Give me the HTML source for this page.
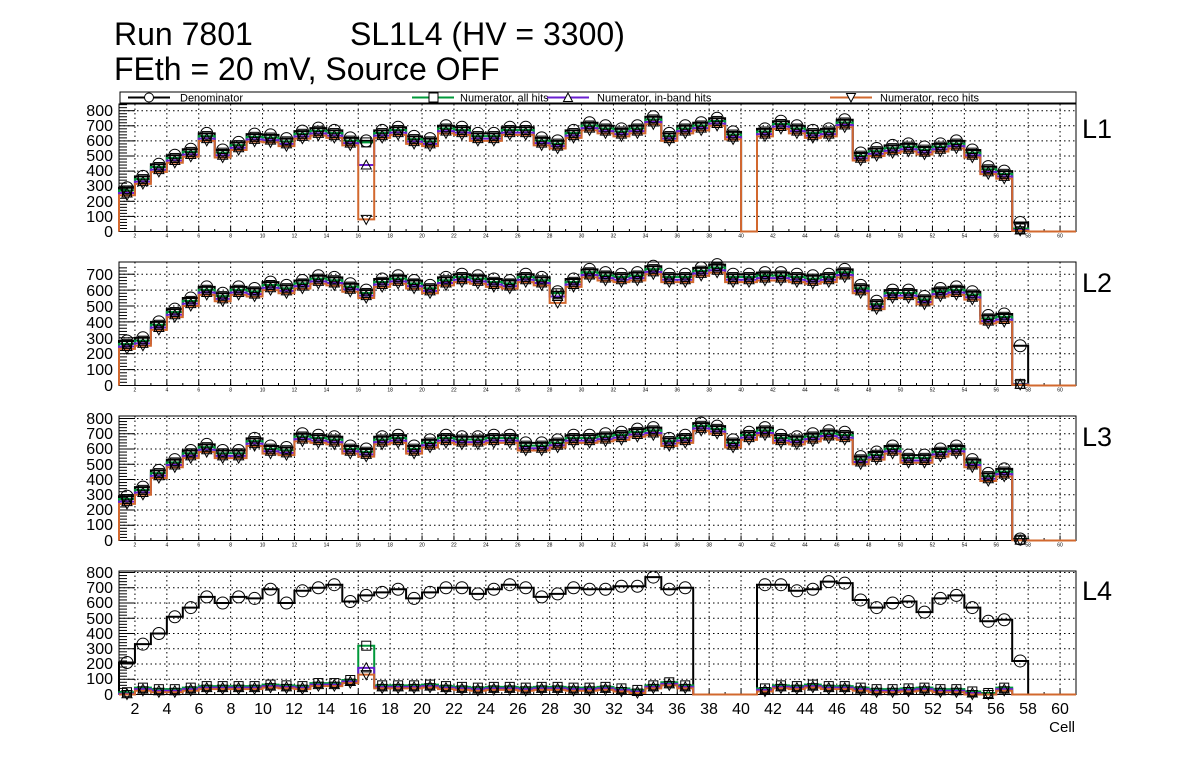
<!DOCTYPE html>
<html><head><meta charset="utf-8"><style>
body{margin:0;background:#fff;width:1196px;height:772px;overflow:hidden;font-family:"Liberation Sans",sans-serif}
svg text{font-family:"Liberation Sans",sans-serif}
</style></head><body>
<svg id="s" width="1196" height="772" xmlns="http://www.w3.org/2000/svg">
<rect width="1196" height="772" fill="#fff"/>
<text x="114" y="45" font-size="32">Run 7801</text>
<text x="350" y="45" font-size="32">SL1L4 (HV = 3300)</text>
<text x="114" y="80" font-size="32">FEth = 20 mV, Source OFF</text>
<rect x="120" y="92" width="956" height="11" fill="#fff" stroke="#000" stroke-width="1"/>
<line x1="128" y1="97.5" x2="170" y2="97.5" stroke="#000" stroke-width="2"/><circle cx="149" cy="97.5" r="4.5" fill="#fff" stroke="#000"/>
<text x="180" y="101.5" font-size="11">Denominator</text>
<line x1="412" y1="97.5" x2="454" y2="97.5" stroke="#00993a" stroke-width="2"/><rect x="429" y="93" width="9" height="9" fill="#fff" stroke="#000"/>
<text x="460" y="101.5" font-size="11">Numerator, all hits</text>
<line x1="547" y1="97.5" x2="589" y2="97.5" stroke="#6a1fd1" stroke-width="2"/><path d="M568 93 L572.5 101.5 L563.5 101.5Z" fill="#fff" stroke="#000"/>
<text x="597" y="101.5" font-size="11">Numerator, in-band hits</text>
<line x1="830" y1="97.5" x2="872" y2="97.5" stroke="#d2682e" stroke-width="2"/><path d="M851 102 L855.5 93.5 L846.5 93.5Z" fill="#fff" stroke="#000"/>
<text x="880" y="101.5" font-size="11">Numerator, reco hits</text>
<text x="1082" y="138" font-size="27">L1</text>
<text x="1082" y="292" font-size="27">L2</text>
<text x="1082" y="446" font-size="27">L3</text>
<text x="1082" y="600" font-size="27">L4</text>
<g font-size="16" text-anchor="end">
<text x="113" y="116">800</text><text x="113" y="131">700</text><text x="113" y="146">600</text><text x="113" y="161">500</text><text x="113" y="176">400</text><text x="113" y="191">300</text><text x="113" y="207">200</text><text x="113" y="222">100</text><text x="113" y="237">0</text>
<text x="113" y="280">700</text><text x="113" y="296">600</text><text x="113" y="312">500</text><text x="113" y="328">400</text><text x="113" y="344">300</text><text x="113" y="359">200</text><text x="113" y="375">100</text><text x="113" y="391">0</text>
<text x="113" y="424">800</text><text x="113" y="439">700</text><text x="113" y="454">600</text><text x="113" y="470">500</text><text x="113" y="485">400</text><text x="113" y="500">300</text><text x="113" y="515">200</text><text x="113" y="530">100</text><text x="113" y="546">0</text>
<text x="113" y="578">800</text><text x="113" y="593">700</text><text x="113" y="608">600</text><text x="113" y="624">500</text><text x="113" y="639">400</text><text x="113" y="654">300</text><text x="113" y="669">200</text><text x="113" y="684">100</text><text x="113" y="700">0</text>
</g>
<g font-size="16" text-anchor="middle">
<text x="135" y="714">2</text><text x="167" y="714">4</text><text x="199" y="714">6</text><text x="231" y="714">8</text><text x="263" y="714">10</text><text x="294" y="714">12</text><text x="326" y="714">14</text><text x="358" y="714">16</text><text x="390" y="714">18</text><text x="422" y="714">20</text><text x="454" y="714">22</text><text x="486" y="714">24</text><text x="518" y="714">26</text><text x="550" y="714">28</text><text x="582" y="714">30</text><text x="614" y="714">32</text><text x="645" y="714">34</text><text x="677" y="714">36</text><text x="709" y="714">38</text><text x="741" y="714">40</text><text x="773" y="714">42</text><text x="805" y="714">44</text><text x="837" y="714">46</text><text x="869" y="714">48</text><text x="901" y="714">50</text><text x="933" y="714">52</text><text x="964" y="714">54</text><text x="996" y="714">56</text><text x="1028" y="714">58</text><text x="1060" y="714">60</text>
</g>
<text x="1075" y="732" font-size="15" text-anchor="end">Cell</text>
<g id="g"></g>
</svg>
<script>
var G=document.getElementById("g"),h="";
function X(v){return 119+(v-1)*15.95;}
var C={d:"#000",a:"#00993a",b:"#6a1fd1",r:"#d2682e"};
var P=[
{top:104,bot:231.5,sc:0.151,mx:800,small:true,
den:[290,365,445,505,545,650,540,590,645,640,615,665,685,670,620,600,670,690,630,615,700,690,650,650,690,690,620,600,670,720,700,680,700,760,650,700,720,750,660,0,680,730,700,670,680,740,520,550,570,580,560,580,600,540,430,400,60,0,0,0],
ov:{16:[590,440,80],57:[20,10,5]}},
{top:262,bot:385.5,sc:0.159,mx:700,small:true,
den:[280,300,400,480,550,620,580,620,610,650,630,660,690,680,640,600,670,690,660,630,680,700,690,670,660,700,680,590,670,730,710,700,710,750,700,700,740,760,700,700,710,710,700,690,700,730,630,530,600,600,560,610,620,590,440,450,250,0,0,0],
ov:{28:[580,560,520],57:[10,8,5]}},
{top:416,bot:540.5,sc:0.1525,mx:800,small:true,
den:[290,350,460,530,590,630,590,590,670,620,610,700,690,680,620,600,680,690,620,660,690,680,680,690,690,640,640,660,690,690,700,710,730,740,670,690,770,750,660,710,740,690,680,700,720,710,550,580,620,560,560,600,620,530,440,470,10,0,0,0],
ov:{57:[5,3,2]}},
{top:571,bot:694.5,sc:0.1525,mx:800,small:false,
den:[210,330,400,510,570,640,600,640,630,690,600,680,700,720,610,650,670,690,630,670,700,700,660,690,720,700,640,660,700,690,690,710,710,770,690,700,0,0,0,0,720,720,680,690,740,730,620,570,600,610,540,630,650,570,480,490,220,0,0,0],
num:[15,45,35,35,45,55,55,55,55,65,60,55,75,75,95,320,60,60,60,65,55,50,45,50,50,45,50,50,45,45,50,40,30,60,80,60,0,0,0,0,40,60,55,65,55,55,45,35,35,40,45,35,35,20,10,45,0,0,0,0],
ov:{16:[320,175,130]},nomark57:true}
];
P.forEach(function(p){
 function Y(v){return p.bot-v*p.sc;}
 h+='<rect x="119" y="'+p.top+'" width="957" height="'+(p.bot-p.top)+'" fill="#fff" stroke="#000" stroke-width="1"/>';
 for(var v=2;v<=60;v+=2)h+='<line x1="'+X(v)+'" y1="'+p.top+'" x2="'+X(v)+'" y2="'+p.bot+'" stroke="#000" stroke-width="1" stroke-dasharray="1.5,3"/>';
 for(var t=100;t<=p.mx;t+=100)h+='<line x1="119" y1="'+Y(t)+'" x2="1076" y2="'+Y(t)+'" stroke="#000" stroke-width="1" stroke-dasharray="1.5,3"/>';
 for(var t=0;t<=p.mx+40;t+=20){if(Y(t)<p.top)break;var L=(t%100==0)?16:8;h+='<line x1="119" y1="'+Y(t)+'" x2="'+(119+L)+'" y2="'+Y(t)+'" stroke="#000"/>';}
 for(var v=1;v<=61;v++){var L=(v%2==0)?5:2.5;h+='<line x1="'+X(v)+'" y1="'+p.bot+'" x2="'+X(v)+'" y2="'+(p.bot-L)+'" stroke="#000"/>';}
 if(p.small)for(var v=2;v<=60;v+=2)h+='<text x="'+X(v)+'" y="'+(p.bot+6)+'" font-size="5" text-anchor="middle">'+v+'</text>';
 var S={d:p.den,a:[],b:[],r:[]};
 for(var i=0;i<60;i++){
  var d=p.den[i],a,b,r;
  if(p.num){a=p.num[i];b=Math.max(0,a-10);r=Math.max(0,a-20);}
  else{a=d?Math.max(0,d-18):0;b=d?Math.max(0,d-35):0;r=d?Math.max(0,d-50):0;}
  var o=p.ov[i+1];if(o){a=o[0];b=o[1];r=o[2];}
  S.a.push(a);S.b.push(b);S.r.push(r);
 }
 ["d","a","b","r"].forEach(function(k){
  var arr=S[k],s="M"+X(1)+" "+Y(0);
  for(var i=0;i<60;i++){s+=" V"+Y(arr[i])+" H"+X(i+2);}
  s+=" V"+Y(0);
  h+='<path d="'+s+'" fill="none" stroke="'+C[k]+'" stroke-width="2"/>';
 });
 for(var i=0;i<60;i++){
  var cx=X(i+1.5);
  if(p.den[i]>0){var y=Y(p.den[i]);h+='<circle cx="'+cx+'" cy="'+y+'" r="6" fill="none" stroke="#000"/>';}
  if(p.den[i]==0)continue;
  if(p.nomark57&&i==56)continue;
  var y=Y(S.a[i]);h+='<rect x="'+(cx-4.5)+'" y="'+(y-4.5)+'" width="9" height="9" fill="none" stroke="#000"/>';
  y=Y(S.b[i]);h+='<path d="M'+cx+' '+(y-5)+' L'+(cx+5)+' '+(y+4)+' L'+(cx-5)+' '+(y+4)+'Z" fill="none" stroke="#000"/>';
  y=Y(S.r[i]);h+='<path d="M'+cx+' '+(y+5)+' L'+(cx+5)+' '+(y-4)+' L'+(cx-5)+' '+(y-4)+'Z" fill="none" stroke="#000"/>';
 }
});
G.innerHTML=h;
</script>
</body></html>
